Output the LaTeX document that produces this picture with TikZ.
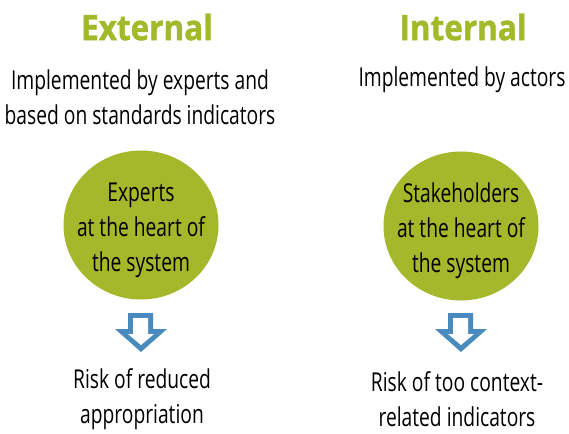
\documentclass[tikz,border=0pt]{standalone}
\usepackage{fontspec}
\usetikzlibrary{shapes.geometric}
\setmainfont{Open Sans}[FakeStretch=0.74]
\newfontfamily\titlefont{Open Sans}[FakeStretch=0.9, BoldFeatures={FakeBold=1.2}]
\definecolor{leafgreen}{HTML}{A5B82C}
\definecolor{titlegreen}{HTML}{A0BA2A}
\definecolor{arrowblue}{HTML}{4A8BBE}
\begin{document}
\begin{tikzpicture}[x=1pt,y=-1pt]
\useasboundingbox (0,0) rectangle (569,433);
\tikzset{
  heading/.style={font=\titlefont\bfseries\fontsize{35}{40}\selectfont, text=titlegreen, inner sep=0pt},
  body/.style={font=\fontsize{26}{35}\selectfont, align=center, inner sep=0pt},
  bubble/.style={ellipse, fill=leafgreen, minimum width=155pt, minimum height=149pt, inner sep=0pt},
  bubbletext/.style={font=\fontsize{26}{35}\selectfont, align=center, inner sep=0pt},
  downarrow/.pic={
    \fill[arrowblue] (-13,-20) -- (12,-20) -- (12,-4) -- (26,-4) -- (0,19) -- (-26,-4) -- (-13,-4) -- cycle;
    \fill[white] (-8,-15) -- (7,-15) -- (7,1) -- (13,1) -- (0,12) -- (-13,1) -- (-8,1) -- cycle;
  }
}
% headings
\node[heading] (ext) at (147,27) {External};
\node[heading] (int) at (463,27) {Internal};
% descriptions
\node[body] (extdesc) at (140,97) {Implemented by experts and\\based on standards indicators};
\node[body] (intdesc) at (462,80) {Implemented by actors};
% circles
\node[bubble] (extc) at (141,225) {};
\node[bubble] (intc) at (461,226) {};
\node[bubbletext] (extct) at (141,230) {Experts\\at the heart of\\the system};
\node[bubbletext] (intct) at (461,231) {Stakeholders\\at the heart of\\the system};
% arrows
\pic at (141,333) {downarrow};
\pic at (461,333) {downarrow};
% risks
\node[body] (extrisk) at (142,399) {Risk of reduced\\appropriation};
\node[body] (intrisk) at (457,399) {Risk of too context-\\related indicators};
\end{tikzpicture}
\end{document}
